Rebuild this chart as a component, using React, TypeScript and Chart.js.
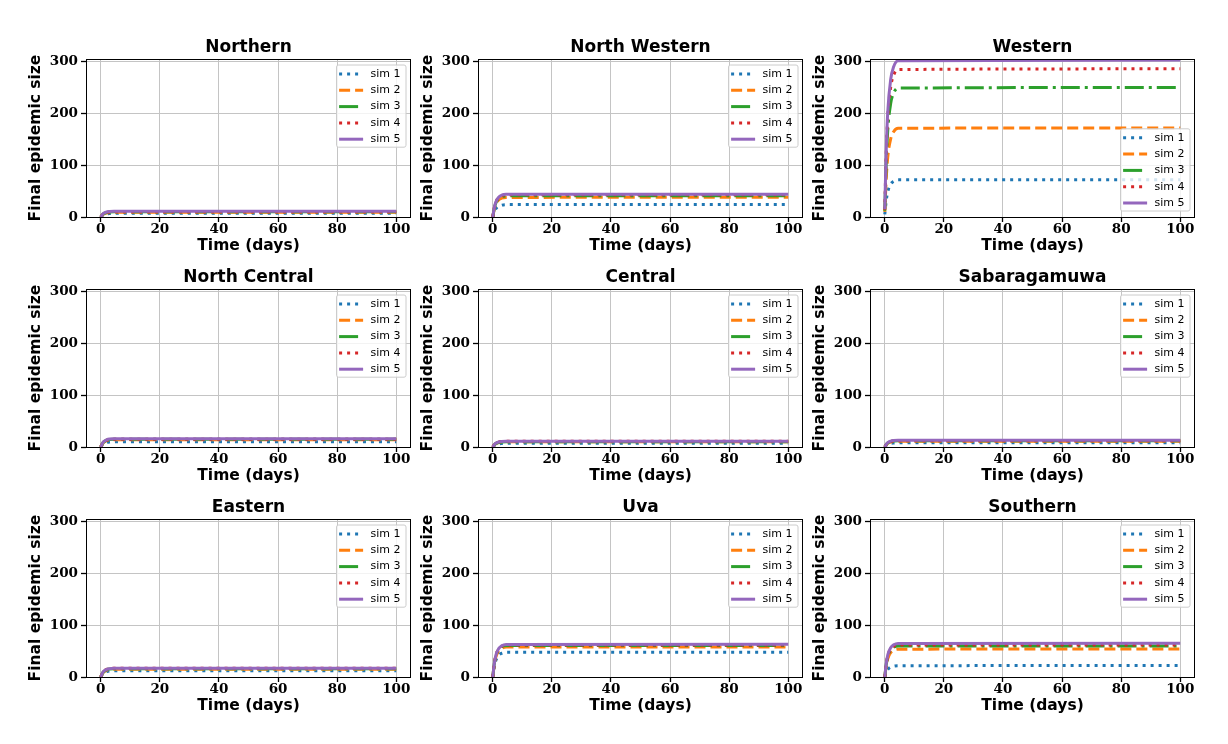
import React, { useEffect, useRef } from 'react';
import { Chart, registerables } from 'chart.js';

Chart.register(...registerables);

// ---- data ----
const days = [0, 0.5, 1, 2, 3, 4.5, 100];
const simLabels = ['sim 1', 'sim 2', 'sim 3', 'sim 4', 'sim 5'];
const regionNames = ['Northern', 'North Western', 'Western', 'North Central', 'Central', 'Sabaragamuwa', 'Eastern', 'Uva', 'Southern'];
const xTickValues = [0, 20, 40, 60, 80, 100];
const yTickValues = [0, 100, 200, 300];

const northern = [
  [0, 2.8, 4.6, 6.1, 6.7, 7, 7],
  [0, 3.6, 5.9, 7.8, 8.6, 9, 9],
  [0, 4, 6.5, 8.7, 9.6, 10, 10],
  [0, 4, 6.5, 8.7, 9.6, 10, 10],
  [0, 4.4, 7.2, 9.6, 10.5, 11, 11],
];
const northWestern = [
  [0, 9.6, 15.6, 20.9, 22.9, 23.9, 24],
  [0, 15.2, 24.7, 33.1, 36.3, 37.8, 38],
  [0, 16.4, 26.7, 35.7, 39.2, 40.8, 41],
  [0, 17.2, 28, 37.4, 41.1, 42.8, 43],
  [0, 17.6, 28.6, 38.3, 42, 43.8, 44],
];
const western = [
  [5, 31.8, 48.6, 63.3, 69, 71.7, 72],
  [10, 74.8, 115.3, 150.9, 164.7, 171.2, 172],
  [12, 107.2, 166.7, 219.1, 239.3, 248.8, 250],
  [14, 122.8, 190.8, 250.6, 273.8, 284.6, 286],
  [15, 130.2, 202.2, 265.6, 290, 301.6, 303],
];
const northCentral = [
  [0, 4, 6.5, 8.7, 9.6, 10, 10],
  [0, 5.6, 9.1, 12.2, 13.4, 13.9, 14],
  [0, 6, 9.8, 13.1, 14.3, 14.9, 15],
  [0, 6, 9.8, 13.1, 14.3, 14.9, 15],
  [0, 6.4, 10.4, 13.9, 15.3, 15.9, 16],
];
const central = [
  [0, 2.8, 4.6, 6.1, 6.7, 7, 7],
  [0, 4, 6.5, 8.7, 9.6, 10, 10],
  [0, 4, 6.5, 8.7, 9.6, 10, 10],
  [0, 4.4, 7.2, 9.6, 10.5, 10.9, 11],
  [0, 4.4, 7.2, 9.6, 10.5, 10.9, 11],
];
const sabaragamuwa = [
  [0, 3.2, 5.2, 7, 7.6, 8, 8],
  [0, 4.4, 7.2, 9.6, 10.5, 10.9, 11],
  [0, 4.8, 7.8, 10.4, 11.5, 11.9, 12],
  [0, 4.8, 7.8, 10.4, 11.5, 11.9, 12],
  [0, 5.2, 8.5, 11.3, 12.4, 12.9, 13],
];
const eastern = [
  [0, 4.8, 7.8, 10.4, 11.5, 11.9, 12],
  [0, 6, 9.8, 13.1, 14.3, 14.9, 15],
  [0, 6.4, 10.4, 13.9, 15.3, 15.9, 16],
  [0, 6.8, 11.1, 14.8, 16.2, 16.9, 17],
  [0, 6.8, 11.1, 14.8, 16.2, 16.9, 17],
];
const uva = [
  [0, 19.2, 31.2, 41.8, 45.8, 47.8, 48],
  [0, 23.2, 37.7, 50.5, 55.4, 57.7, 58],
  [0, 24.4, 39.7, 53.1, 58.3, 60.7, 61],
  [0, 24.8, 40.3, 53.9, 59.2, 61.7, 62],
  [0, 25.2, 41, 54.8, 60.2, 62.7, 63],
];
const southern = [
  [0, 8.8, 14.3, 19.1, 21, 21.9, 22],
  [0, 21.6, 35.1, 47, 51.6, 53.7, 54],
  [0, 24, 39, 52.2, 57.3, 59.7, 60],
  [0, 24.8, 40.3, 53.9, 59.2, 61.7, 62],
  [0, 26, 42.3, 56.6, 62.1, 64.7, 65],
];

const regionSeries = [northern, northWestern, western, northCentral, central, sabaragamuwa, eastern, uva, southern];
const legendCorners = ['upper', 'upper', 'lower', 'upper', 'upper', 'upper', 'upper', 'upper', 'upper'];

// ---- styles ----
const colors = ['#1f77b4', '#ff7f0e', '#2ca02c', '#d62728', '#9467bd'];
const dashes = [[3, 5], [11, 5], [19, 5, 3, 5], [3, 5], []];
const LW = 3;

const colPlotLeft = [86, 478, 870];
const rowPlotTop = [59, 289, 519];
const PLOT_W = 325;
const PLOT_H = 158;
const YW = 61;
const TH = 26;
const XH = 40;
const PR = 20;
const CW = YW + PLOT_W + PR;
const CH = TH + PLOT_H + XH;

const decorPlugin = {
  id: 'decor',
  afterDatasetsDraw(chart: any) {
    const { ctx, chartArea: a } = chart;
    ctx.save();
    ctx.strokeStyle = '#000';
    ctx.lineWidth = 1;
    ctx.setLineDash([]);
    const l = Math.round(a.left), t = Math.round(a.top), r = Math.round(a.right), b = Math.round(a.bottom);
    ctx.strokeRect(l + 0.5, t + 0.5, r - l - 1, b - t);
    ctx.restore();
  },
  afterDraw(chart: any) {
    const { ctx, chartArea: a } = chart;
    const corner = chart.options.plugins.decor?.corner || 'upper';
    ctx.save();
    ctx.font = '11px "DejaVu Sans"';
    let tw = 0;
    simLabels.forEach((s) => { tw = Math.max(tw, ctx.measureText(s).width); });
    const bw = 2.6 + 24 + 7.4 + tw + 5.5;
    const bh = 82.2;
    const right = a.right - 5;
    const left = right - bw;
    const top = corner === 'upper' ? a.top + 6 : a.bottom - 6 - bh;
    ctx.beginPath();
    (ctx as any).roundRect(left, top, bw, bh, 2);
    ctx.fillStyle = 'rgba(255,255,255,0.8)';
    ctx.fill();
    ctx.strokeStyle = '#cccccc';
    ctx.lineWidth = 1;
    ctx.stroke();
    simLabels.forEach((s, i) => {
      const cy = top + 9 + i * 16.3;
      ctx.beginPath();
      ctx.setLineDash(dashes[i]);
      ctx.lineCap = 'butt';
      ctx.strokeStyle = colors[i];
      ctx.lineWidth = LW;
      ctx.moveTo(left + 2.6, cy);
      ctx.lineTo(left + 26.6, cy);
      ctx.stroke();
      ctx.setLineDash([]);
      ctx.fillStyle = '#000';
      ctx.textBaseline = 'middle';
      ctx.textAlign = 'left';
      ctx.fillText(s, left + 34, cy);
    });
    ctx.restore();
  },
};

function Panel({ idx }: { idx: number }) {
  const ref = useRef<HTMLCanvasElement>(null);
  useEffect(() => {
    const series = regionSeries[idx];
    const datasets = series.map((vals, i) => ({
      label: simLabels[i],
      data: days.map((d, k) => ({ x: d, y: vals[k] })),
      borderColor: colors[i],
      backgroundColor: colors[i],
      borderWidth: LW,
      borderDash: dashes[i],
      borderCapStyle: 'butt' as const,
      borderJoinStyle: 'round' as const,
      pointRadius: 0,
      fill: false,
      cubicInterpolationMode: 'monotone' as const,
      order: 5 - i,
    }));
    const chart = new Chart(ref.current!, {
      type: 'line',
      data: { datasets },
      plugins: [decorPlugin],
      options: {
        responsive: false,
        animation: false,
        events: [],
        layout: { padding: { left: 0, right: PR, top: 0, bottom: 0 } },
        plugins: {
          legend: { display: false },
          tooltip: { enabled: false },
          title: {
            display: true,
            text: regionNames[idx],
            fullSize: false,
            color: '#000',
            font: { family: 'DejaVu Sans', size: 17, weight: 'bold', lineHeight: 1.2 },
            padding: { top: 4.3, bottom: 1.3 },
          },
          decor: { corner: legendCorners[idx] },
        } as any,
        scales: {
          x: {
            type: 'linear',
            min: -5,
            max: 105,
            afterBuildTicks: (s: any) => { s.ticks = xTickValues.map((v) => ({ value: v })); },
            afterFit: (s: any) => { s.height = XH; s.paddingLeft = 0; s.paddingRight = 0; },
            grid: { color: '#c4c4c4', lineWidth: 1, drawTicks: true, tickLength: 5, tickColor: '#000', tickWidth: 1.3 },
            border: { display: false },
            ticks: {
              color: '#000',
              font: { family: 'DejaVu Serif', size: 13.5, weight: 'bold' },
              padding: -1,
              maxRotation: 0,
              autoSkip: false,
            },
            title: {
              display: true,
              text: 'Time (days)',
              color: '#000',
              font: { family: 'DejaVu Sans', size: 15.5, weight: 'bold', lineHeight: 1.2 },
              padding: { top: 0, bottom: 2 },
            },
          },
          y: {
            type: 'linear',
            min: 0,
            max: 305,
            afterBuildTicks: (s: any) => { s.ticks = yTickValues.map((v) => ({ value: v })); },
            afterFit: (s: any) => { s.width = YW; s.paddingTop = 0; s.paddingBottom = 0; },
            grid: { color: '#c4c4c4', lineWidth: 1, drawTicks: true, tickLength: 5, tickColor: '#000', tickWidth: 1.3 },
            border: { display: false },
            ticks: {
              color: '#000',
              font: { family: 'DejaVu Serif', size: 13.5, weight: 'bold' },
              padding: 3,
              autoSkip: false,
            },
            title: {
              display: true,
              text: 'Final epidemic size',
              color: '#000',
              font: { family: 'DejaVu Sans', size: 15.5, weight: 'bold', lineHeight: 1.2 },
              padding: { top: 2, bottom: 0 },
            },
          },
        },
      } as any,
    });
    return () => chart.destroy();
  }, [idx]);
  const col = idx % 3;
  const row = Math.floor(idx / 3);
  return (
    <canvas
      ref={ref}
      width={CW}
      height={CH}
      style={{ position: 'absolute', left: colPlotLeft[col] - YW, top: rowPlotTop[row] - TH, width: CW, height: CH }}
    />
  );
}

export default function App() {
  return (
    <div style={{ position: 'absolute', left: 0, top: 0, width: 1228, height: 744, background: '#fff', overflow: 'hidden' }}>
      {regionNames.map((_, i) => (
        <Panel key={i} idx={i} />
      ))}
    </div>
  );
}
